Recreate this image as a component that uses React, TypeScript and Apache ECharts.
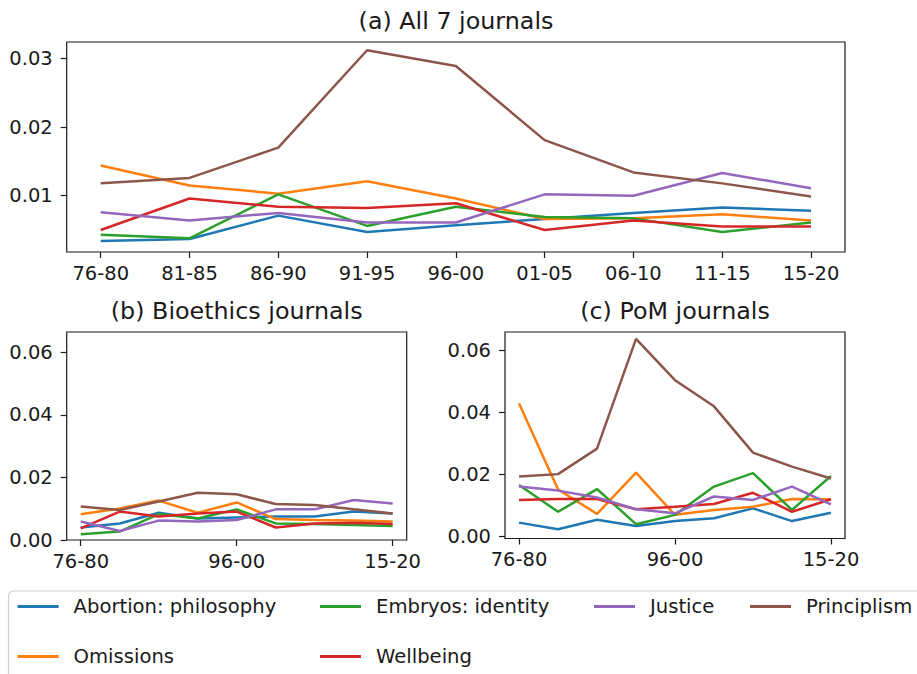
import React, { useEffect, useRef } from "react";
import * as echarts from "echarts";

const categories = ["76-80", "81-85", "86-90", "91-95", "96-00", "01-05", "06-10", "11-15", "15-20"];
const topicNames = ["Abortion: philosophy", "Omissions", "Embryos: identity", "Wellbeing", "Justice", "Principlism"];
const topicColors = ["#1f77b4", "#ff7f0e", "#2ca02c", "#d62728", "#9467bd", "#8c564b"];

// (a) All 7 journals
const allAbortion = [0.0034, 0.0037, 0.0071, 0.0047, 0.0057, 0.0066, 0.0075, 0.0083, 0.0078];
const allOmissions = [0.0144, 0.0115, 0.0103, 0.0121, 0.0096, 0.0066, 0.0067, 0.0073, 0.0064];
const allEmbryos = [0.0043, 0.0038, 0.0102, 0.0056, 0.0084, 0.0069, 0.0067, 0.0047, 0.0061];
const allWellbeing = [0.0050, 0.0096, 0.0084, 0.0082, 0.0089, 0.0050, 0.0064, 0.0055, 0.0055];
const allJustice = [0.0076, 0.0064, 0.0075, 0.0061, 0.0061, 0.0102, 0.0100, 0.0133, 0.0111];
const allPrinciplism = [0.0118, 0.0126, 0.0170, 0.0312, 0.0289, 0.0181, 0.0134, 0.0118, 0.0099];

// (b) Bioethics journals
const bioAbortion = [0.0040, 0.0053, 0.0087, 0.0069, 0.0072, 0.0075, 0.0075, 0.0091, 0.0085];
const bioOmissions = [0.0082, 0.0101, 0.0126, 0.0087, 0.0120, 0.0067, 0.0064, 0.0062, 0.0059];
const bioEmbryos = [0.0018, 0.0027, 0.0083, 0.0069, 0.0098, 0.0053, 0.0051, 0.0048, 0.0045];
const bioWellbeing = [0.0037, 0.0091, 0.0075, 0.0085, 0.0091, 0.0040, 0.0053, 0.0055, 0.0051];
const bioJustice = [0.0059, 0.0029, 0.0062, 0.0059, 0.0064, 0.0098, 0.0098, 0.0128, 0.0117];
const bioPrinciplism = [0.0107, 0.0096, 0.0123, 0.0151, 0.0146, 0.0115, 0.0112, 0.0098, 0.0085];

// (c) PoM journals
const pomAbortion = [0.0045, 0.0024, 0.0054, 0.0034, 0.0050, 0.0059, 0.0091, 0.0050, 0.0077];
const pomOmissions = [0.0428, 0.0152, 0.0073, 0.0206, 0.0070, 0.0086, 0.0096, 0.0121, 0.0120];
const pomEmbryos = [0.0166, 0.0080, 0.0153, 0.0040, 0.0070, 0.0161, 0.0204, 0.0086, 0.0195];
const pomWellbeing = [0.0118, 0.0121, 0.0121, 0.0088, 0.0096, 0.0105, 0.0141, 0.0080, 0.0120];
const pomJustice = [0.0161, 0.0148, 0.0126, 0.0088, 0.0075, 0.0129, 0.0118, 0.0161, 0.0104];
const pomPrinciplism = [0.0193, 0.0201, 0.0283, 0.0636, 0.0503, 0.0419, 0.0270, 0.0225, 0.0187];

const panelTitles = ["(a) All 7 journals", "(b) Bioethics journals", "(c) PoM journals"];
const yTicksTop = [0.01, 0.02, 0.03];
const yTicksBottom = [0.0, 0.02, 0.04, 0.06];
const xTicksTop = [0, 1, 2, 3, 4, 5, 6, 7, 8];
const xTicksBottom = [0, 4, 8];

const panels = [
  [allAbortion, allOmissions, allEmbryos, allWellbeing, allJustice, allPrinciplism],
  [bioAbortion, bioOmissions, bioEmbryos, bioWellbeing, bioJustice, bioPrinciplism],
  [pomAbortion, pomOmissions, pomEmbryos, pomWellbeing, pomJustice, pomPrinciplism],
];

const FONT = "DejaVu Sans";
const INK = "#1a1a1a";

export default function App() {
  const ref = useRef<HTMLDivElement>(null);
  useEffect(() => {
    if (!ref.current) return;
    const chart = echarts.init(ref.current, null, { renderer: "svg" });

    const grids = [
      { left: 66.7, top: 42, width: 778.3, height: 210 },
      { left: 66.7, top: 332, width: 340, height: 208 },
      { left: 505, top: 332, width: 340, height: 206.5 },
    ];
    const yRanges = [
      [0.0018, 0.0324],
      [0, 0.0665],
      [-0.0006, 0.0658],
    ];
    const xPad = [0.383, 0.36, 0.36];

    const xAxis = grids.map((_, i) => ({
      type: "value",
      gridIndex: i,
      min: -xPad[i],
      max: 8 + xPad[i],
      axisLine: { show: false, onZero: false },
      splitLine: { show: false },
      axisTick: {
        show: true,
        length: 6,
        lineStyle: { color: INK, width: 1.2 },
        customValues: i === 0 ? xTicksTop : xTicksBottom,
      },
      axisLabel: {
        color: INK,
        fontFamily: FONT,
        fontSize: 19.5,
        margin: 11,
        customValues: i === 0 ? xTicksTop : xTicksBottom,
        formatter: (v: number) => categories[Math.round(v)] ?? "",
      },
    }));

    const yAxis = grids.map((_, i) => ({
      type: "value",
      gridIndex: i,
      min: yRanges[i][0],
      max: yRanges[i][1],
      axisLine: { show: false, onZero: false },
      splitLine: { show: false },
      axisTick: {
        show: true,
        length: 6,
        lineStyle: { color: INK, width: 1.2 },
        customValues: i === 0 ? yTicksTop : yTicksBottom,
      },
      axisLabel: {
        color: INK,
        fontFamily: FONT,
        fontSize: 19.5,
        margin: 14,
        customValues: i === 0 ? yTicksTop : yTicksBottom,
        formatter: (v: number) => v.toFixed(2),
      },
    }));

    const series: any[] = [];
    panels.forEach((panel, gi) => {
      panel.forEach((vals, si) => {
        series.push({
          type: "line",
          name: topicNames[si],
          xAxisIndex: gi,
          yAxisIndex: gi,
          data: vals.map((v, k) => [k, v]),
          symbol: "none",
          lineStyle: { color: topicColors[si], width: 2.5 },
          itemStyle: { color: topicColors[si] },
          z: 2 + si,
        });
      });
    });

    const legendCols = [
      { left: 17.6, names: [topicNames[0], topicNames[1]] },
      { left: 320, names: [topicNames[2], topicNames[3]] },
      { left: 594, names: [topicNames[4]] },
      { left: 750, names: [topicNames[5]] },
    ];
    const legend = legendCols.map((c) => ({
      orient: "vertical",
      left: c.left,
      top: 596.5,
      padding: 0,
      itemWidth: 41,
      itemHeight: 3,
      itemGap: 30,
      icon: "rect",
      selectedMode: false,
      data: c.names,
      textStyle: {
        color: INK,
        fontFamily: FONT,
        fontSize: 19.6,
        lineHeight: 20,
        padding: [0, 0, 0, 10],
      },
    }));

    const titleCenters = [456, 236.7, 675];
    const titleTops = [9, 299, 299];
    const title = panelTitles.map((t, i) => ({
      text: t,
      left: titleCenters[i],
      top: titleTops[i],
      textAlign: "center",
      padding: 0,
      textStyle: { color: INK, fontFamily: FONT, fontSize: 23.8, fontWeight: "normal" },
    }));

    chart.setOption({
      animation: false,
      backgroundColor: "#ffffff",
      textStyle: { fontFamily: FONT },
      title,
      grid: grids.map((g) => ({ ...g, show: true, borderColor: INK, borderWidth: 1.2, backgroundColor: "transparent" })),
      xAxis,
      yAxis,
      series,
      legend,
      graphic: [
        {
          type: "rect",
          shape: { x: 8.5, y: 591, width: 1000, height: 200, r: 5 },
          style: { fill: "#ffffff", stroke: "#d0d0d0", lineWidth: 1.2 },
          z: 0,
          silent: true,
        },
      ],
    });
    return () => chart.dispose();
  }, []);

  return (
    <div
      ref={ref}
      style={{ position: "fixed", left: 0, top: 0, width: 917, height: 674, background: "#fff" }}
    />
  );
}
